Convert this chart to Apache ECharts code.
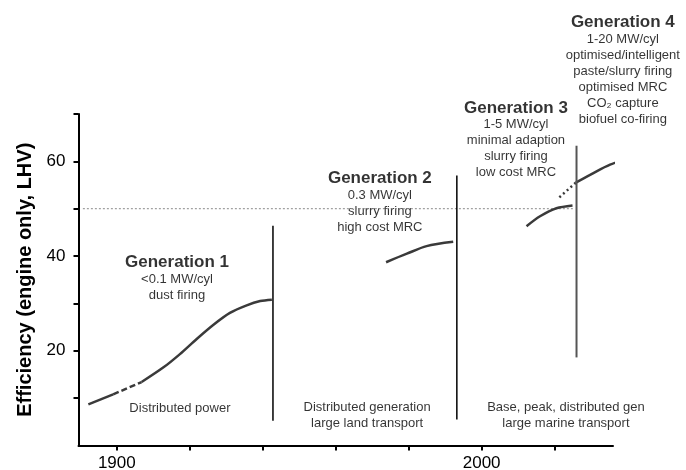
<!DOCTYPE html>
<html>
<head>
<meta charset="utf-8">
<script src="https://cdn.jsdelivr.net/npm/echarts@6/dist/echarts.min.js"></script>
<style>
  html, body { margin: 0; padding: 0; background: #fff; }
  #chart { width: 686px; height: 470px; }
</style>
</head>
<body>
<div id="chart"></div>
<script>
// curves: [year, efficiency %]
const gen1Early = [[1892.2, 8.7], [1899.0, 10.8]];
const gen1Dashed = [[1899.0, 10.8], [1906.8, 13.4]];
const gen1Main = [[1906.8, 13.4], [1912.8, 16.5], [1917.3, 19.3], [1921.9, 22.5], [1926.5, 25.5], [1931.0, 28.0], [1935.6, 29.6], [1939.3, 30.5], [1942.5, 30.8]];
const gen2 = [[1973.8, 38.7], [1979.5, 40.5], [1984.9, 42.1], [1992.2, 43.0]];
const gen3 = [[2012.3, 46.3], [2016.0, 48.4], [2020.5, 50.1], [2024.9, 50.7]];
const gen4Dotted = [[2021.3, 52.4], [2025.8, 55.5]];
const gen4 = [[2025.8, 55.5], [2031.5, 57.9], [2035.2, 59.3], [2038.8, 60.3]];

// separators between eras: [year, bottom, top]
const dividers = [[1942.8, 5.2, 46.4], [1993.2, 5.5, 57.0]];
const gen4Divider = [2026.0, 18.6, 63.3];
const refLevel = [[1890.7, 50], [2025, 50]];

const genTitles = ["Generation 1", "Generation 2", "Generation 3", "Generation 4"];
const genNotes = [
  ["<0.1 MW/cyl", "dust firing"],
  ["0.3 MW/cyl", "slurry firing", "high cost MRC"],
  ["1-5 MW/cyl", "minimal adaption", "slurry firing", "low cost MRC"],
  ["1-20 MW/cyl", "optimised/intelligent", "paste/slurry firing", "optimised MRC", "CO\u2082 capture", "biofuel co-firing"]
];
const genAnchors = [[1916.5, 40.5], [1972.1, 58.4], [2009.4, 73.2], [2038.7, 91.3]];

const useTexts = [
  ["Distributed power"],
  ["Distributed generation", "large land transport"],
  ["Base, peak, distributed gen", "large marine transport"]
];
const useAnchors = [[1917.3, 7.9], [1968.6, 6.4], [2023.1, 6.4]];

const xTicks = [1900, 1920, 1940, 1960, 1980, 2000, 2020];
const xLabels = [1900, 2000];
const yTicks = [10, 20, 30, 40, 50, 60, 70];
const yLabels = [20, 40, 60];

const FONT = '"Liberation Sans", Arial, sans-serif';
const curve = { color: "#3a3a3a", width: 2.5 };

function lineSeries(data, lineStyle, smooth) {
  return {
    type: "line",
    data: data,
    symbol: "none",
    smooth: smooth || false,
    clip: false,
    silent: true,
    lineStyle: lineStyle
  };
}

const chart = echarts.init(document.getElementById("chart"));

const series = [
  lineSeries(refLevel, { color: "#8a8a8a", width: 1, type: [2, 2] }),
  lineSeries(gen1Early, curve),
  lineSeries(gen1Dashed, Object.assign({}, curve, { type: [6, 3] })),
  lineSeries(gen1Main, curve, 0.3),
  lineSeries(gen2, curve, 0.3),
  lineSeries(gen3, curve, 0.3),
  lineSeries(gen4Dotted, Object.assign({}, curve, { type: [2, 3] })),
  lineSeries(gen4, curve, 0.3)
];

dividers.forEach(d => {
  series.push(lineSeries([[d[0], d[1]], [d[0], d[2]]], { color: "#000", width: 1.5 }));
});
series.push(lineSeries([[gen4Divider[0], gen4Divider[1]], [gen4Divider[0], gen4Divider[2]]], { color: "#555", width: 2 }));

// generation headings
series.push({
  type: "scatter",
  symbolSize: 1,
  clip: false,
  silent: true,
  itemStyle: { color: "rgba(0,0,0,0)" },
  data: genAnchors,
  label: {
    show: true,
    position: "inside",
    align: "center",
    verticalAlign: "top",
    textBorderWidth: 0,
    formatter: p => {
      const i = p.dataIndex;
      return ["{t|" + genTitles[i] + "}"].concat(genNotes[i].map(s => "{s|" + s + "}")).join("\n");
    },
    rich: {
      t: { fontFamily: FONT, fontSize: 17, fontWeight: "bold", lineHeight: 18, color: "#000", align: "center", textBorderWidth: 0 },
      s: { fontFamily: FONT, fontSize: 13, lineHeight: 16, color: "#000", align: "center", textBorderWidth: 0 }
    }
  }
});

// application texts at bottom
series.push({
  type: "scatter",
  symbolSize: 1,
  clip: false,
  silent: true,
  itemStyle: { color: "rgba(0,0,0,0)" },
  data: useAnchors,
  label: {
    show: true,
    position: "inside",
    align: "center",
    verticalAlign: "middle",
    fontFamily: FONT,
    fontSize: 13,
    lineHeight: 16,
    color: "#000",
    textBorderWidth: 0,
    formatter: p => useTexts[p.dataIndex].join("\n")
  }
});

chart.setOption({
  animation: false,
  backgroundColor: "#fff",
  grid: { left: 78.5, right: 73, top: 114, bottom: 24.5, containLabel: false, outerBoundsMode: "none" },
  xAxis: {
    type: "value",
    min: 1889.5,
    max: 2036,
    axisLine: { show: true, lineStyle: { color: "#000", width: 2 } },
    axisTick: { show: true, length: 5, customValues: xTicks, lineStyle: { color: "#000", width: 2 } },
    axisLabel: { customValues: xLabels, margin: 9, fontFamily: FONT, fontSize: 17, color: "#000", formatter: v => String(v) },
    splitLine: { show: false }
  },
  yAxis: {
    type: "value",
    min: 0,
    max: 70,
    name: "Efficiency (engine only, LHV)",
    nameLocation: "middle",
    nameGap: 42,
    nameTextStyle: { fontFamily: FONT, fontSize: 20, fontWeight: "bold", color: "#000" },
    axisLine: { show: true, lineStyle: { color: "#000", width: 2 } },
    axisTick: { show: true, length: 5, customValues: yTicks, lineStyle: { color: "#000", width: 2 } },
    axisLabel: { customValues: yLabels, margin: 13, fontFamily: FONT, fontSize: 17, color: "#000" },
    splitLine: { show: false }
  },
  series: series
});
</script>
</body>
</html>
